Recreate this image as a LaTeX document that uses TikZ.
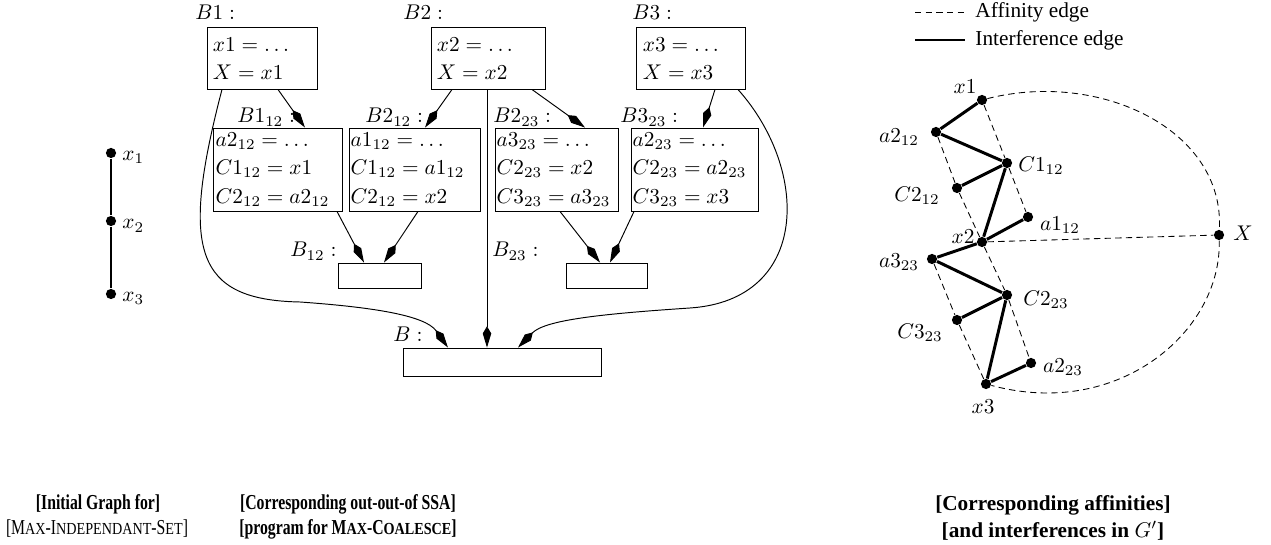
\documentclass[tikz,border=0pt]{standalone}
\usepackage{fontspec}
\newfontfamily\capfont{Liberation Serif}
\usetikzlibrary{arrows.meta,calc}
\newcommand\fakesc[1]{\scalebox{1}[0.88]{\small #1}}
\begin{document}
\begin{tikzpicture}[x=0.47pt,y=-0.47pt,
  blk/.style={draw, line width=0.45pt, inner ysep=0pt, align=left},
  topbox/.style={blk, inner xsep=2.8pt, minimum height=28.7pt},
  midbox/.style={blk, inner xsep=0.8pt, minimum height=39pt},
  emptybox/.style={draw, line width=0.45pt, inner sep=0pt, minimum height=#1},
  lbl/.style={inner sep=0pt, anchor=base west},
  flow/.style={-{Kite[length=10pt,width=4pt,inset=3.4pt]}, line width=0.45pt},
  vtx/.style={circle, fill=black, inner sep=0pt, minimum size=4.8pt},
  inter/.style={line width=1.4pt},
  aff/.style={dash pattern=on 3pt off 2pt, line width=0.4pt},
  vlbl/.style={inner sep=0pt},
  captxt/.style={inner sep=0pt, font=\capfont}]
\useasboundingbox (0,0) rectangle (1271,545);

% ---------- left graph ----------
\node[vtx] (lx1) at (111,153) {};
\node[vtx] (lx2) at (111,221) {};
\node[vtx] (lx3) at (111,294) {};
\draw[inter, line width=1.3pt] (lx1) -- (lx2) -- (lx3);
\node[vlbl, anchor=west] (llx1) at (122,157.5) {$x_1$};
\node[vlbl, anchor=west] (llx2) at (122,226) {$x_2$};
\node[vlbl, anchor=west] (llx3) at (122,298.5) {$x_3$};

% ---------- middle program ----------
\node[topbox, text width=46.1pt] (B1) at (262,58.5) {$x1=\ldots$\\[1.2pt]$X=x1$};
\node[topbox, text width=48pt] (B2) at (488,58.5) {$x2=\ldots$\\[1.2pt]$X=x2$};
\node[topbox, text width=45.2pt] (B3) at (691,58.5) {$x3=\ldots$\\[1.2pt]$X=x3$};
\node[lbl] (lB1) at (195,20) {$B1:$};
\node[lbl] (lB2) at (403,20) {$B2:$};
\node[lbl] (lB3) at (632,20) {$B3:$};

\node[midbox, text width=58.6pt] (B112) at (278,169.5) {$a2_{12}=\ldots$\\[1.4pt]$C1_{12}=x1$\\[1.4pt]$C2_{12}=a2_{12}$};
\node[midbox, text width=60.4pt] (B212) at (415,169.5) {$a1_{12}=\ldots$\\[1.4pt]$C1_{12}=a1_{12}$\\[1.4pt]$C2_{12}=x2$};
\node[midbox, text width=56.2pt] (B223) at (556.5,169.5) {$a3_{23}=\ldots$\\[1.4pt]$C2_{23}=x2$\\[1.4pt]$C3_{23}=a3_{23}$};
\node[midbox, text width=58.1pt] (B323) at (694.5,169.5) {$a2_{23}=\ldots$\\[1.4pt]$C2_{23}=a2_{23}$\\[1.4pt]$C3_{23}=x3$};
\node[lbl] (lB112) at (237,123) {$B1_{12}:$};
\node[lbl] (lB212) at (365,123) {$B2_{12}:$};
\node[lbl] (lB223) at (493,123) {$B2_{23}:$};
\node[lbl] (lB323) at (620,123) {$B3_{23}:$};

\node[emptybox=11.75pt, minimum width=39pt] (B12) at (379.5,275.5) {};
\node[emptybox=11.75pt, minimum width=38.5pt] (B23) at (607,275.5) {};
\node[emptybox=13.6pt, minimum width=93.5pt] (B) at (502.5,362.5) {};
\node[lbl] (lB12) at (290,257) {$B_{12}:$};
\node[lbl] (lB23) at (492,257) {$B_{23}:$};
\node[lbl] (lB) at (393,342) {$B:$};

\draw[flow] ($(B1.south)+(16,0)$) -- ($(B112.north)+(27,0)$);
\draw[flow] ($(B2.south)+(-36,0)$) -- ($(B212.north)+(10,0)$);
\draw[flow] ($(B2.south)+(44,0)$) -- ($(B223.north)+(28.5,0)$);
\draw[flow] ($(B2.south)+(-1,0)$) -- ($(B.north)+(-15.5,0)$);
\draw[flow] ($(B3.south)+(24,0)$) -- ($(B323.north)+(8.5,0)$);
\draw[flow] ($(B112.south)+(59,0)$) -- ($(B12.north)+(-15.5,0)$);
\draw[flow] ($(B212.south)+(3,0)$) -- ($(B12.north)+(4.5,0)$);
\draw[flow] ($(B223.south)+(3.5,0)$) -- ($(B23.north)+(-7,0)$);
\draw[flow] ($(B323.south)+(-60.5,0)$) -- ($(B23.north)+(3,0)$);
\coordinate (k1) at (300,302);
\coordinate (k3) at (690,308);
\draw[flow] ($(B1.south)+(-40,0)$) .. controls (180,250) and (195,300) .. (k1)
   .. controls (370,307) and (425,315) .. ($(B.north)+(-54.5,0)$);
\draw[flow] ($(B3.south)+(47,0)$) .. controls (810,170) and (810,300) .. (k3)
   .. controls (600,314) and (545,320) .. ($(B.north)+(15.5,0)$);

% ---------- right graph ----------
\node[vtx] (x1) at (982,100) {};
\node[vtx] (a212) at (936,132) {};
\node[vtx] (C112) at (1007,163) {};
\node[vtx] (C212) at (957,188) {};
\node[vtx] (a112) at (1028,217) {};
\node[vtx] (x2) at (982,242) {};
\node[vtx] (X) at (1219,235) {};
\node[vtx] (a323) at (932,259) {};
\node[vtx] (C223) at (1007,295) {};
\node[vtx] (C323) at (957,320) {};
\node[vtx] (a223) at (1031,363) {};
\node[vtx] (x3) at (986,384) {};

\draw[aff] (x1) -- (C112) -- (a112);
\draw[aff] (a212) -- (C212) -- (x2);
\draw[aff] (x2) -- (C223) -- (a223);
\draw[aff] (a323) -- (C323) -- (x3);
\draw[aff] (x2) -- (X);
\draw[aff] (x1) .. controls (1100,70) and (1225,130) .. (X);
\draw[aff] (X) .. controls (1222,330) and (1120,420) .. (x3);

\draw[inter] (x1) -- (a212) -- (C112) -- (C212);
\draw[inter] (C112) -- (x2) -- (a112);
\draw[inter] (x2) -- (a323) -- (C223) -- (C323);
\draw[inter] (C223) -- (x3) -- (a223);

\node[vlbl] (lx1) at (965,87) {$x1$};
\node[vlbl] (la212) at (899,137) {$a2_{12}$};
\node[vlbl] (lC112) at (1041,166) {$C1_{12}$};
\node[vlbl] (lC212) at (917,196) {$C2_{12}$};
\node[vlbl] (la112) at (1060,225) {$a1_{12}$};
\node[vlbl] (lx2) at (963,237) {$x2$};
\node[vlbl] (lX) at (1243,233) {$X$};
\node[vlbl] (la323) at (899,262) {$a3_{23}$};
\node[vlbl] (lC223) at (1046,300) {$C2_{23}$};
\node[vlbl] (lC323) at (920,333) {$C3_{23}$};
\node[vlbl] (la223) at (1063,367) {$a2_{23}$};
\node[vlbl] (lx3) at (983,407) {$x3$};

% legend
\coordinate (g1a) at (915,12);
\coordinate (g1b) at (965,12);
\coordinate (g2a) at (915,40);
\coordinate (g2b) at (965,40);
\draw[aff] (g1a) -- (g1b);
\draw[inter] (g2a) -- (g2b);
\node[captxt, anchor=west] (gt1) at (975,12) {Affinity edge};
\node[captxt, anchor=west] (gt2) at (975,40) {Interference edge};

% captions
\node[captxt] (cap1a) at (98,504) {\scalebox{0.74}[1]{\bfseries [Initial Graph for]}};
\node[captxt] (cap1b) at (97,529) {\scalebox{0.74}[1]{[M\fakesc{AX}-I\fakesc{NDEPENDANT}-S\fakesc{ET}]}};
\node[captxt] (cap2a) at (348,504) {\scalebox{0.74}[1]{\bfseries [Corresponding out-out-of SSA]}};
\node[captxt] (cap2b) at (348,529) {\scalebox{0.74}[1]{\bfseries [program for M\fakesc{\bfseries AX}-C\fakesc{\bfseries OALESCE}]}};
\node[captxt] (cap3a) at (1053,505) {\bfseries [Corresponding affinities]};
\node[captxt] (cap3b) at (1053,531) {\bfseries [and interferences in $G'$]};
\end{tikzpicture}
\end{document}
